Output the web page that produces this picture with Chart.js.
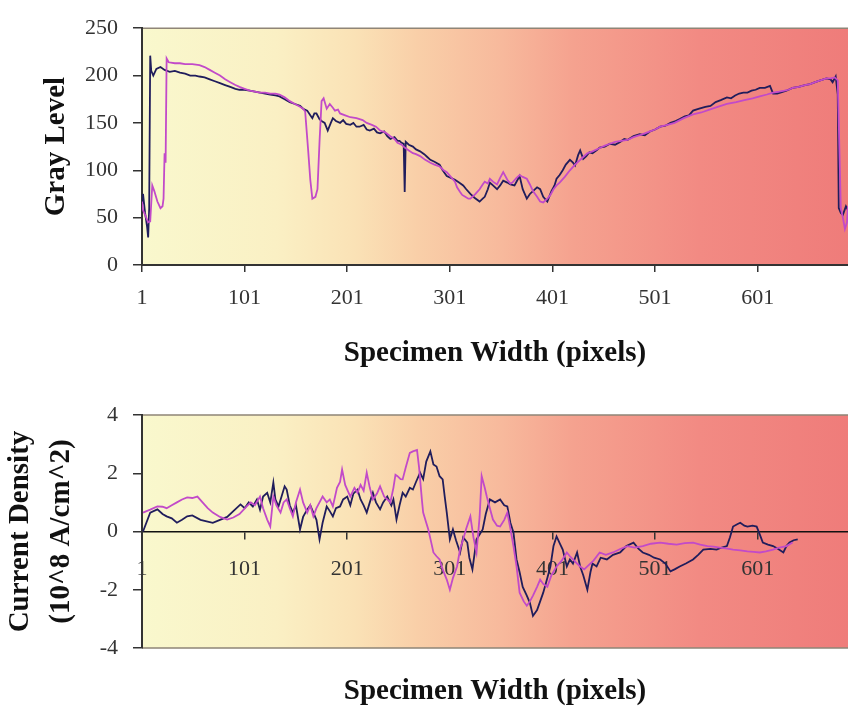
<!DOCTYPE html>
<html><head><meta charset="utf-8">
<script src="https://cdn.jsdelivr.net/npm/chart.js@4/dist/chart.umd.min.js"></script>
<style>
html,body{margin:0;padding:0;background:#fff;}
#wrap{position:relative;width:848px;height:708px;overflow:hidden;background:#fff;}
#c1{position:absolute;left:0;top:0;}
#c2{position:absolute;left:0;top:380px;}
</style></head><body>
<div id="wrap">
<canvas id="c1" width="848" height="380"></canvas>
<canvas id="c2" width="848" height="328"></canvas>
</div>
<script>
// ---- data ----
const xTickValues = [1,101,201,301,401,501,601];
const xTickLabels = ['1','101','201','301','401','501','601'];
const grayTicks = [0,50,100,150,200,250];
const currentTicks = [-4,-2,0,2,4];

const grayNavyX = [
1,2,4,6,7,8,9,10,12,15,
19,23,28,33,38,43,48,53,57,62,
67,72,77,82,87,92,96,101,106,111,
116,121,126,131,135,140,145,150,155,158,
162,165,167,169,171,174,176,179,182,185,
187,190,194,197,200,204,207,210,213,217,
220,223,227,230,233,237,240,243,247,250,
252,254,256,257,258,261,265,268,272,276,
279,282,286,291,294,298,302,306,310,314,
317,321,325,330,333,335,338,340,343,347,
350,353,357,360,364,367,369,372,376,379,
382,386,389,392,396,400,403,405,408,411,
414,418,421,423,426,428,431,434,437,440,
444,447,452,457,462,467,471,474,480,486,
491,496,501,506,511,516,521,525,530,534,
538,544,550,555,560,565,571,575,579,583,
587,591,595,599,603,608,613,616,620,623,
629,635,641,647,652,657,662,668,672,674,
677,679,680,682,684,687,689];
const grayNavyY = [
62,75,55,40,29,60,221,205,200,207,
209,206,204,205,203,202,200,200,199,198,
196,194,192,190,188,186,185,185,184,183,
182,181,180,179,178,175,172,170,168,165,
163,158,155,160,160,154,152,150,142,150,
155,152,150,153,149,148,150,146,146,148,
143,142,144,140,139,141,136,133,135,131,
131,129,128,77,130,127,125,122,120,117,
114,111,109,106,100,94,92,90,87,84,
80,75,71,67,70,72,80,87,84,80,
84,89,87,85,84,90,94,80,70,75,
78,82,80,72,67,78,84,91,95,100,
106,111,108,105,116,121,112,115,119,118,
121,124,125,128,127,130,133,132,136,138,
137,141,143,146,147,150,152,154,157,158,
163,165,167,168,172,174,177,176,179,181,
182,182,184,185,187,187,189,181,181,182,
184,187,188,190,191,193,195,197,196,193,
199,180,60,55,53,62,58];

const grayMagentaX = [
1,2,4,7,9,11,13,16,19,21,
22,23,24,25,27,33,38,43,50,57,
62,67,72,77,82,87,92,96,101,106,
111,116,121,126,131,135,140,145,150,155,
158,160,163,165,167,170,172,174,176,178,
181,184,187,189,192,194,199,204,210,216,
220,225,229,233,238,243,247,250,254,257,
261,265,268,272,277,282,286,291,295,298,
302,306,308,311,313,316,319,321,324,326,
330,333,335,338,340,343,347,350,353,357,
360,362,366,369,372,376,379,382,386,389,
392,396,399,402,405,408,413,418,423,428,
431,435,440,446,452,457,462,468,474,480,
486,491,496,501,506,513,520,529,538,546,
554,562,571,580,588,596,603,610,616,622,
627,631,635,641,647,652,657,662,668,672,
676,679,682,684,686,688,689];
const grayMagentaY = [
67,58,53,45,46,84,78,67,60,62,
70,118,108,218,214,213,213,212,212,211,
209,206,203,200,196,193,190,188,186,184,
183,182,182,181,181,180,177,173,170,167,
165,162,120,90,70,72,80,130,173,176,
165,170,166,163,164,160,158,156,155,153,
150,148,146,142,140,136,133,129,127,124,
121,118,117,115,111,108,106,104,100,98,
93,88,82,77,74,72,70,70,73,75,
80,85,88,86,91,88,85,92,98,90,
86,87,92,95,93,91,85,78,72,67,
66,70,74,80,84,87,93,100,106,111,
114,118,120,123,126,128,130,131,132,135,
137,139,141,143,146,148,150,155,159,161,
164,167,170,172,174,176,178,180,182,183,
184,185,187,188,190,191,193,195,197,197,
198,195,60,50,38,45,62];

const cdNavyX = [
2,9,16,21,25,30,35,40,45,50,
58,64,70,77,84,90,97,101,105,109,
113,116,119,123,126,129,131,134,137,140,
142,145,148,151,155,158,162,165,168,171,
174,177,181,184,187,190,194,197,201,204,
207,211,214,217,220,223,226,229,233,236,
240,244,246,249,252,255,258,262,265,268,
272,275,278,282,285,288,291,294,296,298,
301,304,307,311,314,318,320,323,327,330,
333,336,340,345,350,354,357,360,363,366,
369,372,376,379,382,386,389,392,396,399,
402,405,408,411,415,418,421,425,428,431,
435,438,440,444,448,454,460,467,473,480,
485,489,495,500,506,511,516,520,525,531,
538,543,548,555,561,566,571,574,577,581,
584,588,591,596,600,603,606,611,616,621,
626,629,632,636,640];
const cdNavyY = [
0,0.65,0.76,0.6,0.52,0.45,0.3,0.4,0.52,0.55,
0.4,0.35,0.3,0.4,0.5,0.7,0.93,0.8,1.0,0.86,
1.1,0.75,1.2,1.33,1.0,1.68,1.1,0.86,1.2,1.55,
1.44,0.9,0.65,0.9,0.07,0.5,0.76,0.9,0.65,0.4,
-0.27,0.3,0.86,0.7,0.52,0.8,0.86,1.1,1.2,0.9,
1.3,1.44,1.1,0.9,0.65,1.0,1.33,1.0,0.76,1.0,
1.2,0.9,1.1,0.41,0.9,1.33,1.2,1.5,1.44,1.7,
2.02,1.8,2.4,2.75,2.3,2.23,1.9,1.79,1.2,0.65,
-0.27,0.07,-0.3,-0.72,-0.2,-0.38,-0.9,-1.3,-0.27,-0.1,
0.07,0.6,1.1,1.0,1.1,0.9,0.86,0.3,-0.03,-0.96,
-1.4,-1.9,-2.2,-2.45,-2.9,-2.7,-2.4,-2.1,-1.6,-1.2,
-0.5,-0.17,-0.4,-0.62,-1.2,-0.96,-1.1,-0.72,-1.2,-1.5,
-2.0,-1.4,-1.1,-1.2,-0.9,-0.96,-0.8,-0.72,-0.5,-0.38,
-0.6,-0.72,-0.8,-0.9,-0.96,-1.1,-1.37,-1.3,-1.2,-1.1,
-0.96,-0.8,-0.62,-0.6,-0.62,-0.55,-0.5,-0.2,0.17,0.25,
0.3,0.2,0.17,0.2,0.17,-0.1,-0.38,-0.45,-0.5,-0.6,
-0.72,-0.5,-0.38,-0.3,-0.27];

const cdMagentaX = [
2,9,16,21,25,30,35,40,45,50,
55,60,65,70,77,84,90,96,103,107,
111,116,119,123,126,129,132,136,139,142,
145,148,151,155,158,162,165,168,171,174,
177,181,184,187,191,194,196,199,201,204,
208,211,214,217,220,223,226,230,233,237,
240,243,246,248,250,253,255,258,262,265,
269,271,272,274,275,278,280,283,285,288,
291,294,298,301,304,308,311,314,317,321,
324,327,330,332,335,337,340,343,347,350,
354,357,360,363,366,369,373,376,379,382,
386,389,392,396,400,405,410,415,418,421,
425,428,432,435,441,447,453,460,467,474,
481,489,497,506,514,522,530,538,545,552,
558,564,570,577,584,591,597,603,609,616,
622,629,635];
const cdMagentaY = [
0.65,0.75,0.86,0.85,0.8,0.9,1.0,1.1,1.17,1.15,
1.2,1.0,0.8,0.65,0.5,0.41,0.48,0.6,0.86,1.0,
0.9,1.2,0.8,0.41,0.17,1.2,0.9,0.65,1.0,1.1,
0.8,0.52,1.0,1.44,1.0,0.65,0.9,0.52,0.8,1.0,
1.2,1.0,1.1,0.86,1.5,1.7,2.13,1.6,1.44,1.2,
1.5,1.33,1.6,1.4,2.02,1.5,1.1,1.3,1.55,1.2,
1.1,1.0,1.5,1.95,1.9,1.8,1.79,2.2,2.7,2.75,
2.8,2.2,1.79,1.0,0.65,0.3,0.07,-0.4,-0.72,-0.85,
-0.96,-1.3,-1.65,-2.0,-1.6,-1.2,-0.6,-0.27,0.1,0.52,
-0.2,-0.72,0.5,1.9,1.5,1.2,0.8,0.41,0.2,0.17,
0.4,0.65,0.1,-0.5,-1.2,-2.1,-2.4,-2.55,-2.4,-2.2,
-1.9,-1.65,-1.8,-1.9,-1.5,-1.2,-1.0,-0.72,-0.85,-0.96,
-1.1,-1.2,-1.3,-1.2,-1.0,-0.72,-0.8,-0.72,-0.6,-0.5,
-0.55,-0.5,-0.42,-0.38,-0.42,-0.45,-0.4,-0.38,-0.45,-0.5,
-0.52,-0.55,-0.58,-0.62,-0.65,-0.68,-0.7,-0.72,-0.68,-0.62,
-0.55,-0.5,-0.38];

// ---- styling ----
const NAVY = '#201d5c';
const MAGENTA = '#c24ac9';
const TICK_FONT = {family:'Liberation Serif', size:22};
const TITLE_FONT = {family:'Liberation Serif', size:29, weight:'bold', lineHeight:1.2};
const AXIS_COLOR = '#333333';
const X_MIN = 1, X_MAX = 689;

function pts(xs, ys){ return xs.map((x,i)=>({x:x, y:ys[i]})); }

function bgPlugin(drawBottom){
  return {
    id:'bgGrad',
    beforeDraw(chart){
      const {ctx, chartArea:a} = chart;
      const g = ctx.createLinearGradient(a.left,0,a.right,0);
      g.addColorStop(0.00,'#f9f8cd');
      g.addColorStop(0.19,'#faf0c4');
      g.addColorStop(0.30,'#fae2b6');
      g.addColorStop(0.39,'#f9cfa8');
      g.addColorStop(0.51,'#f7b99c');
      g.addColorStop(0.61,'#f5a28f');
      g.addColorStop(0.79,'#f28a83');
      g.addColorStop(1.00,'#ef7c7a');
      ctx.save();
      ctx.fillStyle = g;
      ctx.fillRect(a.left,a.top,a.right-a.left,a.bottom-a.top);
      ctx.strokeStyle = '#8f8577';
      ctx.lineWidth = 1.5;
      ctx.beginPath();
      ctx.moveTo(a.left,a.top); ctx.lineTo(a.right,a.top);
      if (drawBottom){ ctx.moveTo(a.left,a.bottom); ctx.lineTo(a.right,a.bottom); }
      ctx.stroke();
      ctx.restore();
    }
  };
}

function setTicks(values){ return s => { s.ticks = values.map(v=>({value:v})); }; }
function xLabel(v){ const i = xTickValues.indexOf(v); return i >= 0 ? xTickLabels[i] : ''; }

const lineDs = (label, data, color) => ({
  label, data, borderColor: color, borderWidth: 1.8, pointRadius: 0,
  tension: 0, fill: false
});

// ---- top chart ----
new Chart(document.getElementById('c1'), {
  type:'line',
  data:{ datasets:[
    lineDs('Magenta', pts(grayMagentaX, grayMagentaY), MAGENTA),
    lineDs('Navy', pts(grayNavyX, grayNavyY), NAVY)
  ]},
  options:{
    responsive:false, animation:false, events:[],
    layout:{padding:{top:22,left:0,right:0,bottom:0}},
    plugins:{legend:{display:false}, tooltip:{enabled:false}},
    scales:{
      x:{
        type:'linear', min:X_MIN, max:X_MAX,
        afterBuildTicks: setTicks(xTickValues),
        ticks:{callback:xLabel, font:TICK_FONT, color:AXIS_COLOR, padding:13, maxRotation:0, autoSkip:false},
        grid:{drawOnChartArea:false, drawTicks:true, tickLength:7, color:AXIS_COLOR, lineWidth:1.5},
        border:{display:true, color:AXIS_COLOR, width:2},
        title:{display:true, text:'Specimen Width (pixels)', font:{...TITLE_FONT, lineHeight:1}, color:'#111', padding:{top:0,bottom:12}},
        afterFit: s => { s.height = 115; }
      },
      y:{
        min:0, max:250,
        afterBuildTicks: setTicks(grayTicks),
        ticks:{font:TICK_FONT, color:AXIS_COLOR, padding:15},
        grid:{drawOnChartArea:false, drawTicks:true, tickLength:9, color:AXIS_COLOR, lineWidth:1.5},
        border:{display:true, color:AXIS_COLOR, width:2},
        title:{display:true, text:'Gray Level', font:TITLE_FONT, color:'#111', padding:{top:39,bottom:0}},
        afterFit: s => { s.width = 142; }
      }
    }
  },
  plugins:[bgPlugin(false)]
});

// ---- bottom chart ----
new Chart(document.getElementById('c2'), {
  type:'line',
  data:{ datasets:[
    lineDs('Magenta', pts(cdMagentaX, cdMagentaY), MAGENTA),
    lineDs('Navy', pts(cdNavyX, cdNavyY), NAVY)
  ]},
  options:{
    responsive:false, animation:false, events:[],
    layout:{padding:{top:35,left:0,right:0,bottom:0}},
    plugins:{legend:{display:false}, tooltip:{enabled:false}},
    scales:{
      x:{
        type:'linear', min:X_MIN, max:X_MAX, position:{y:0},
        afterBuildTicks: setTicks(xTickValues),
        ticks:{callback:xLabel, font:TICK_FONT, color:AXIS_COLOR, padding:18, maxRotation:0, autoSkip:false},
        grid:{drawOnChartArea:false, drawTicks:true, tickLength:7, color:AXIS_COLOR, lineWidth:1.5},
        border:{display:true, color:'#111', width:1.5},
        title:{display:false}
      },
      x2:{
        type:'linear', axis:'x', min:X_MIN, max:X_MAX, position:'bottom',
        ticks:{display:false},
        grid:{display:false},
        border:{display:false},
        title:{display:true, text:'Specimen Width (pixels)', font:{...TITLE_FONT, lineHeight:1}, color:'#111', padding:{top:0,bottom:1.5}},
        afterFit: s => { s.height = 60; }
      },
      y:{
        min:-4, max:4,
        afterBuildTicks: setTicks(currentTicks),
        ticks:{font:TICK_FONT, color:AXIS_COLOR, padding:15},
        grid:{drawOnChartArea:false, drawTicks:true, tickLength:9, color:AXIS_COLOR, lineWidth:1.5},
        border:{display:true, color:AXIS_COLOR, width:2},
        title:{display:true, text:['Current Density','(10^8 A/cm^2)'], font:{...TITLE_FONT, lineHeight:1.38}, color:'#111', padding:{top:1,bottom:0}},
        afterFit: s => { s.width = 142; }
      }
    }
  },
  plugins:[bgPlugin(true)]
});
</script>
</body></html>
